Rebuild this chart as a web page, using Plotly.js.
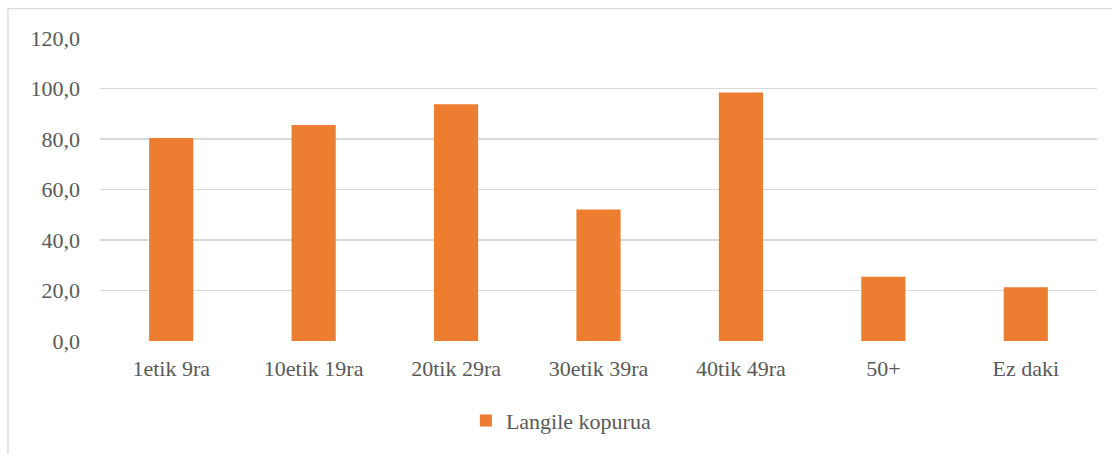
<!DOCTYPE html>
<html>
<head>
<meta charset="utf-8">
<script src="https://cdn.plot.ly/plotly-3.0.1.min.js"></script>
<style>
html,body{margin:0;padding:0;background:#fff;}
</style>
</head>
<body>
<div id="chart" style="width:1112px;height:454px;"></div>
<script>
const categories = ["1etik 9ra", "10etik 19ra", "20tik 29ra", "30etik 39ra", "40tik 49ra", "50+", "Ez daki"];
const values = [80.4, 85.5, 93.8, 52.1, 98.4, 25.4, 21.3];
const seriesName = "Langile kopurua";
const yTicks = [0, 20, 40, 60, 80, 100, 120];

const textColor = "#595959";
const fontFam = "Liberation Serif, Times New Roman, serif";

const trace = {
  type: "bar",
  x: categories,
  y: values,
  name: seriesName,
  marker: { color: "#ED7D31" },
  showlegend: true,
  hoverinfo: "x+y"
};

const layout = {
  width: 1112,
  height: 454,
  margin: { l: 100, r: 15, t: 38, b: 111 },
  paper_bgcolor: "#ffffff",
  plot_bgcolor: "#ffffff",
  separators: ", ",
  bargap: 0.69,
  font: { family: fontFam, size: 22, color: textColor },
  xaxis: {
    type: "category",
    showgrid: false,
    zeroline: false,
    showline: false,
    ticks: "",
    ticklabelstandoff: 12,
    tickfont: { family: fontFam, size: 22, color: textColor }
  },
  yaxis: {
    range: [0, 120],
    tickvals: yTicks,
    tickformat: ".1f",
    showgrid: true,
    gridcolor: "#D9D9D9",
    gridwidth: 1.5,
    zeroline: false,
    showline: false,
    ticks: "",
    ticklabelstandoff: 19,
    tickfont: { family: fontFam, size: 22, color: textColor }
  },
  legend: {
    orientation: "h",
    x: 0.367,
    xanchor: "left",
    y: -0.263,
    yanchor: "middle",
    font: { family: fontFam, size: 22, color: textColor },
    bgcolor: "rgba(0,0,0,0)"
  },
  shapes: [
    {
      type: "rect",
      xref: "paper", yref: "paper",
      x0: -0.0923, x1: 1.2,
      y0: -0.5, y1: 1.097,
      line: { color: "#D9D9D9", width: 1.3 },
      fillcolor: "rgba(0,0,0,0)",
      layer: "below"
    }
  ]
};

Plotly.newPlot("chart", [trace], layout, { displayModeBar: false, staticPlot: true });
</script>
</body>
</html>
